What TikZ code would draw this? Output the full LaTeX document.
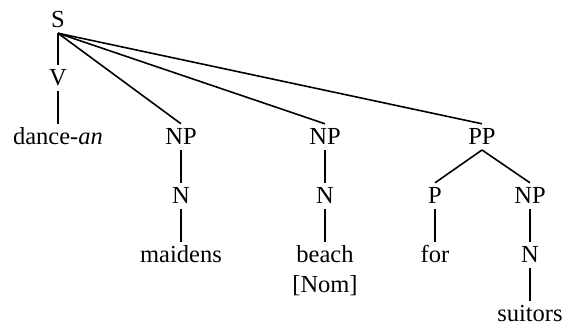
\documentclass[tikz,border=0pt]{standalone}
\usepackage{fontspec}
\setmainfont{Liberation Serif}
\usepackage{tikz}
\tikzset{
word/.style={
anchor=base,
inner sep=0pt,
outer xsep=0pt,
outer ysep=2.5pt,
text height=8.1pt,
font=\fontsize{12.25}{15}\selectfont
},
branch/.style={
line width=0.8pt
}
}

\begin{document}
\begin{tikzpicture}[x=0.5pt,y=-0.5pt]
\useasboundingbox (0,0) rectangle (574,325);
\node[word](s) at (58,28){S};
\node[word](v) at (58,86){V};
\node[word](dance) at (58,145){dance-\textit{an}};
\node[word](np1) at (181,145){NP};
\node[word](n1) at (181,204){N};
\node[word](maidens) at (181,263){maidens};
\node[word](np2) at (325,145){NP};
\node[word](n2) at (325,204){N};
\node[word](beach) at (325,263){beach};
\node[word](nom) at (325,293){[Nom]};
\node[word](pp) at (482,145){PP};
\node[word](p) at (435,204){P};
\node[word](np3) at (530,204){NP};
\node[word](for) at (435,263){for};
\node[word](n3) at (530,263){N};
\node[word](suitors) at (530,322){suitors};

\foreach \x/\y in {s/v,v/dance,s/np1,s/np2,s/pp,np1/n1,n1/maidens,np2/n2,n2/beach,pp/p,pp/np3,p/for,np3/n3,n3/suitors}
\draw[branch](\x.south)--(\y.north);
\end{tikzpicture}
\end{document}
